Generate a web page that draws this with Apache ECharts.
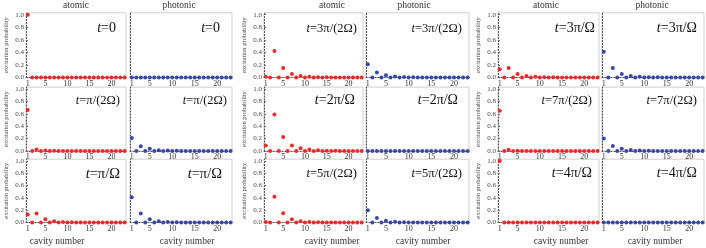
<!DOCTYPE html>
<html><head><meta charset="utf-8">
<script src="https://cdn.jsdelivr.net/npm/echarts@6/dist/echarts.min.js"></script>
<style>html,body{margin:0;padding:0;background:#fff}#c{width:706px;height:248px}</style>
</head><body><div id="c"></div>
<script>
const cavities = [1,2,3,4,5,6,7,8,9,10,11,12,13,14,15,16,17,18,19,20,21,22,23];
const xTicks = [1,5,10,15,20];
const yTicks = [0,0.2,0.4,0.6,0.8,1.0];
const timeLabels = ['0','π/(2Ω)','π/Ω','3π/(2Ω)','2π/Ω','5π/(2Ω)','3π/Ω','7π/(2Ω)','4π/Ω'];

const atomic_t0   = [1.0,0,0,0,0,0,0,0,0,0,0,0,0,0,0,0,0,0,0,0,0,0,0];
const photonic_t0 = [0,0,0,0,0,0,0,0,0,0,0,0,0,0,0,0,0,0,0,0,0,0,0];
const atomic_t1   = [0.66,0,0.025,0,0.008,0,0.003,0,0.001,0,0,0,0,0,0,0,0,0,0,0,0,0,0];
const photonic_t1 = [0.21,0,0.075,0,0.036,0,0.014,0,0.007,0,0.003,0,0.001,0,0,0,0,0,0,0,0,0,0];
const atomic_t2   = [0.13,0,0.148,0,0.054,0,0.022,0,0.01,0,0.005,0,0.002,0,0,0,0,0,0,0,0,0,0];
const photonic_t2 = [0.41,0,0.148,0,0.054,0,0.022,0,0.01,0,0.005,0,0.002,0,0,0,0,0,0,0,0,0,0];
const atomic_t3   = [0.01,0,0.42,0,0.15,0,0.054,0,0.022,0,0.01,0,0.005,0,0.002,0,0,0,0,0,0,0,0];
const photonic_t3 = [0.21,0,0.08,0,0.035,0,0.015,0,0.007,0,0.003,0,0.001,0,0,0,0,0,0,0,0,0,0];
const atomic_t4   = [0.09,0,0.59,0,0.225,0,0.09,0,0.045,0,0.025,0,0.012,0,0.006,0,0.003,0,0,0,0,0,0];
const photonic_t4 = [0,0,0,0,0,0,0,0,0,0,0,0,0,0,0,0,0,0,0,0,0,0,0];
const atomic_t5   = [0.01,0,0.42,0,0.15,0,0.054,0,0.02,0,0.009,0,0.004,0,0.002,0,0,0,0,0,0,0,0];
const photonic_t5 = [0.2,0,0.075,0,0.03,0,0.012,0,0.005,0,0.002,0,0,0,0,0,0,0,0,0,0,0,0];
const atomic_t6   = [0.13,0,0.15,0,0.055,0,0.025,0,0.01,0,0.005,0,0.002,0,0,0,0,0,0,0,0,0,0];
const photonic_t6 = [0.41,0,0.15,0,0.055,0,0.022,0,0.01,0,0.005,0,0.002,0,0,0,0,0,0,0,0,0,0];
const atomic_t7   = [0.65,0,0.02,0,0.006,0,0.002,0,0,0,0,0,0,0,0,0,0,0,0,0,0,0,0];
const photonic_t7 = [0.2,0,0.08,0,0.036,0,0.015,0,0.007,0,0.003,0,0.001,0,0,0,0,0,0,0,0,0,0];
const atomic_t8   = [1.0,0,0,0,0,0,0,0,0,0,0,0,0,0,0,0,0,0,0,0,0,0,0];
const photonic_t8 = [0,0,0,0,0,0,0,0,0,0,0,0,0,0,0,0,0,0,0,0,0,0,0];

const atomicSets = [atomic_t0,atomic_t1,atomic_t2,atomic_t3,atomic_t4,atomic_t5,atomic_t6,atomic_t7,atomic_t8];
const photonicSets = [photonic_t0,photonic_t1,photonic_t2,photonic_t3,photonic_t4,photonic_t5,photonic_t6,photonic_t7,photonic_t8];

// ---- layout (pixels) ----
const W = 706;
const colLayout = [[26,100,130,102],[264,99,366,103],[498,101,602,102]];
const rowLayout = [[12.8,64.7],[87.1,63.9],[159.2,63.3]];
const labelRight = [[116,220],[120,227],[120,222],[357,462],[355,458],[357,462],[595,697],[592,697],[592,697]];
const labelSize = [14,12.5,14.5,12.5,14,12.5,14,12.5,14];
const rowMid = [30,102,175];
const headAtomic = [76,332,546], headPhotonic = [179,414,652];
const footAtomic = [57,332,561], footPhotonic = [187,423,655];

const SERIF = 'Liberation Serif';
const RED = '#ee2a2a', BLUE = '#3848a8';

const grid = [], xAxis = [], yAxis = [], series = [], title = [];
let k = 0;
for (let g = 0; g < 3; g++) {
  for (let r = 0; r < 3; r++) {
    const ti = g * 3 + r;
    for (let p = 0; p < 2; p++) {
      const left = colLayout[g][p * 2], width = colLayout[g][p * 2 + 1];
      grid.push({left: left, top: rowLayout[r][0], width: width, height: rowLayout[r][1],
        show: true, borderColor: '#cfcfcf', borderWidth: 1, backgroundColor: 'transparent', containLabel: false});
      xAxis.push({gridIndex: k, type: 'value', min: 0.6, max: 23.3,
        axisLine: {show: true, lineStyle: {color: '#555', type: [1, 2], width: 1}},
        axisTick: {show: false},
        splitLine: {show: false},
        axisLabel: {customValues: xTicks, fontFamily: SERIF, fontSize: 8, color: '#333', margin: 2}});
      yAxis.push({gridIndex: k, type: 'value', min: 0, max: 1.03,
        name: p === 0 ? 'excitation probability' : '',
        nameLocation: 'middle', nameGap: 16,
        nameTextStyle: {fontFamily: SERIF, fontSize: 6.5, color: '#444'},
        axisLine: {show: true, onZero: false, lineStyle: {color: '#444', type: [1, 2], width: 1}},
        axisTick: {show: p === 0, customValues: yTicks, inside: true, length: 2, lineStyle: {color: '#666'}},
        splitLine: {show: false},
        axisLabel: {show: p === 0, customValues: yTicks, formatter: v => v.toFixed(1),
          fontFamily: SERIF, fontSize: 7, color: '#444', margin: 2}});
      const vals = p === 0 ? atomicSets[ti] : photonicSets[ti];
      series.push({type: 'scatter', xAxisIndex: k, yAxisIndex: k, symbolSize: 4,
        itemStyle: {color: p === 0 ? RED : BLUE, opacity: 1},
        data: cavities.map((c, i) => [c, vals[i]]), silent: true});
      const fs = labelSize[ti];
      title.push({text: '{i|t}{n|=' + timeLabels[ti] + '}', right: W - labelRight[ti][p], top: rowMid[r] - fs * 0.6, padding: 0,
        textStyle: {fontWeight: 'normal', rich: {
          i: {fontFamily: SERIF, fontStyle: 'italic', fontWeight: 'normal', fontSize: fs, color: '#111'},
          n: {fontFamily: SERIF, fontWeight: 'normal', fontSize: fs, color: '#111'}}}});
      k++;
    }
  }
  title.push({text: 'atomic', left: headAtomic[g], textAlign: 'center', top: 0, padding: 0,
    textStyle: {fontFamily: SERIF, fontSize: 9.5, fontWeight: 'normal', color: '#333'}});
  title.push({text: 'photonic', left: headPhotonic[g], textAlign: 'center', top: 0, padding: 0,
    textStyle: {fontFamily: SERIF, fontSize: 9.5, fontWeight: 'normal', color: '#333'}});
  title.push({text: 'cavity number', left: footAtomic[g], textAlign: 'center', top: 236, padding: 0,
    textStyle: {fontFamily: SERIF, fontSize: 9.5, fontWeight: 'normal', color: '#333'}});
  title.push({text: 'cavity number', left: footPhotonic[g], textAlign: 'center', top: 236, padding: 0,
    textStyle: {fontFamily: SERIF, fontSize: 9.5, fontWeight: 'normal', color: '#333'}});
}

const chart = echarts.init(document.getElementById('c'), null, {renderer: 'canvas'});
chart.setOption({animation: false, backgroundColor: '#fff', title, grid, xAxis, yAxis, series});
</script></body></html>
